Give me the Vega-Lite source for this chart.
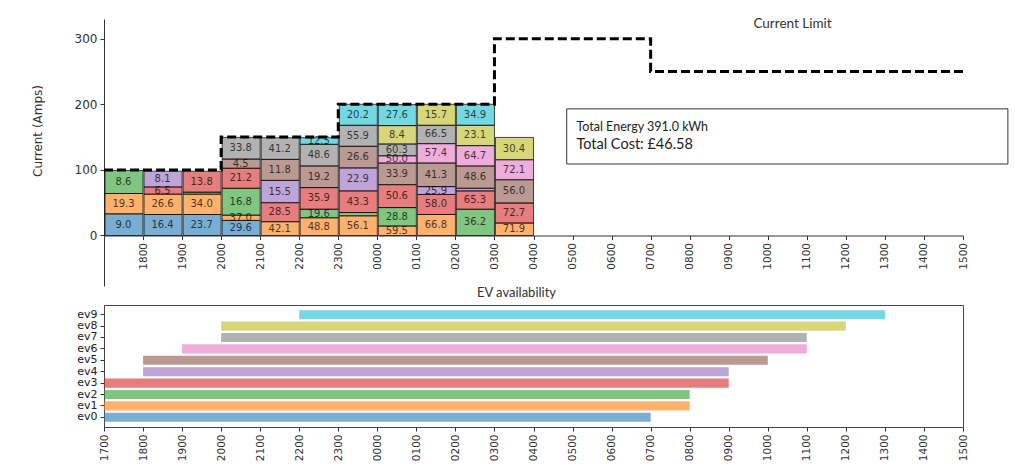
{
  "$schema": "https://vega.github.io/schema/vega-lite/v6.json",
  "padding": {"left": 31, "top": 16, "right": 0, "bottom": 0},
  "background": "white",
  "spacing": 0,
  "config": {
    "font": "DejaVu Sans",
    "axis": {"grid": false, "domainColor": "#333", "tickColor": "#333", "labelColor": "#333", "tickSize": 4, "labelPadding": 3}
  },
  "resolve": {"scale": {"x": "independent", "y": "independent"}},
  "datasets": {
    "current": [
      {"t": "2020-01-01T17:00", "ev": "ev0", "amps": 33, "label": "9.0"},
      {"t": "2020-01-01T17:00", "ev": "ev1", "amps": 31, "label": "19.3"},
      {"t": "2020-01-01T17:00", "ev": "ev2", "amps": 35, "label": "8.6"},
      {"t": "2020-01-01T18:00", "ev": "ev0", "amps": 32, "label": "16.4"},
      {"t": "2020-01-01T18:00", "ev": "ev1", "amps": 31, "label": "26.6"},
      {"t": "2020-01-01T18:00", "ev": "ev3", "amps": 11, "label": "6.5"},
      {"t": "2020-01-01T18:00", "ev": "ev4", "amps": 24, "label": "8.1"},
      {"t": "2020-01-01T19:00", "ev": "ev0", "amps": 32, "label": "23.7"},
      {"t": "2020-01-01T19:00", "ev": "ev1", "amps": 31, "label": "34.0"},
      {"t": "2020-01-01T19:00", "ev": "ev2", "amps": 3, "label": ""},
      {"t": "2020-01-01T19:00", "ev": "ev3", "amps": 32, "label": "13.8"},
      {"t": "2020-01-01T20:00", "ev": "ev0", "amps": 23, "label": "29.6"},
      {"t": "2020-01-01T20:00", "ev": "ev1", "amps": 8, "label": "37.0"},
      {"t": "2020-01-01T20:00", "ev": "ev2", "amps": 41, "label": "16.8"},
      {"t": "2020-01-01T20:00", "ev": "ev3", "amps": 30.5, "label": "21.2"},
      {"t": "2020-01-01T20:00", "ev": "ev5", "amps": 14, "label": "4.5"},
      {"t": "2020-01-01T20:00", "ev": "ev7", "amps": 33, "label": "33.8"},
      {"t": "2020-01-01T21:00", "ev": "ev1", "amps": 21, "label": "42.1"},
      {"t": "2020-01-01T21:00", "ev": "ev3", "amps": 29, "label": "28.5"},
      {"t": "2020-01-01T21:00", "ev": "ev4", "amps": 34, "label": "15.5"},
      {"t": "2020-01-01T21:00", "ev": "ev5", "amps": 32, "label": "11.8"},
      {"t": "2020-01-01T21:00", "ev": "ev7", "amps": 33, "label": "41.2"},
      {"t": "2020-01-01T22:00", "ev": "ev1", "amps": 27, "label": "48.8"},
      {"t": "2020-01-01T22:00", "ev": "ev2", "amps": 13, "label": "19.6"},
      {"t": "2020-01-01T22:00", "ev": "ev3", "amps": 33, "label": "35.9"},
      {"t": "2020-01-01T22:00", "ev": "ev5", "amps": 33, "label": "19.2"},
      {"t": "2020-01-01T22:00", "ev": "ev7", "amps": 33, "label": "48.6"},
      {"t": "2020-01-01T22:00", "ev": "ev9", "amps": 10, "label": "12.5"},
      {"t": "2020-01-01T23:00", "ev": "ev1", "amps": 30, "label": "56.1"},
      {"t": "2020-01-01T23:00", "ev": "ev2", "amps": 5, "label": ""},
      {"t": "2020-01-01T23:00", "ev": "ev3", "amps": 33, "label": "43.3"},
      {"t": "2020-01-01T23:00", "ev": "ev4", "amps": 35, "label": "22.9"},
      {"t": "2020-01-01T23:00", "ev": "ev5", "amps": 33, "label": "26.6"},
      {"t": "2020-01-01T23:00", "ev": "ev7", "amps": 32, "label": "55.9"},
      {"t": "2020-01-01T23:00", "ev": "ev9", "amps": 32, "label": "20.2"},
      {"t": "2020-01-02T00:00", "ev": "ev1", "amps": 14.5, "label": "59.5"},
      {"t": "2020-01-02T00:00", "ev": "ev2", "amps": 28, "label": "28.8"},
      {"t": "2020-01-02T00:00", "ev": "ev3", "amps": 35, "label": "50.6"},
      {"t": "2020-01-02T00:00", "ev": "ev5", "amps": 33, "label": "33.9"},
      {"t": "2020-01-02T00:00", "ev": "ev6", "amps": 11, "label": "50.0"},
      {"t": "2020-01-02T00:00", "ev": "ev7", "amps": 18, "label": "60.3"},
      {"t": "2020-01-02T00:00", "ev": "ev8", "amps": 28, "label": "8.4"},
      {"t": "2020-01-02T00:00", "ev": "ev9", "amps": 32, "label": "27.6"},
      {"t": "2020-01-02T01:00", "ev": "ev1", "amps": 32, "label": "66.8"},
      {"t": "2020-01-02T01:00", "ev": "ev3", "amps": 30.5, "label": "58.0"},
      {"t": "2020-01-02T01:00", "ev": "ev4", "amps": 12, "label": "25.9"},
      {"t": "2020-01-02T01:00", "ev": "ev5", "amps": 36, "label": "41.3"},
      {"t": "2020-01-02T01:00", "ev": "ev6", "amps": 29.5, "label": "57.4"},
      {"t": "2020-01-02T01:00", "ev": "ev7", "amps": 28, "label": "66.5"},
      {"t": "2020-01-02T01:00", "ev": "ev8", "amps": 32, "label": "15.7"},
      {"t": "2020-01-02T02:00", "ev": "ev2", "amps": 40, "label": "36.2"},
      {"t": "2020-01-02T02:00", "ev": "ev3", "amps": 28, "label": "65.3"},
      {"t": "2020-01-02T02:00", "ev": "ev4", "amps": 4, "label": ""},
      {"t": "2020-01-02T02:00", "ev": "ev5", "amps": 34, "label": "48.6"},
      {"t": "2020-01-02T02:00", "ev": "ev6", "amps": 31, "label": "64.7"},
      {"t": "2020-01-02T02:00", "ev": "ev8", "amps": 31, "label": "23.1"},
      {"t": "2020-01-02T02:00", "ev": "ev9", "amps": 32, "label": "34.9"},
      {"t": "2020-01-02T03:00", "ev": "ev1", "amps": 19, "label": "71.9"},
      {"t": "2020-01-02T03:00", "ev": "ev3", "amps": 30.5, "label": "72.7"},
      {"t": "2020-01-02T03:00", "ev": "ev5", "amps": 35.5, "label": "56.0"},
      {"t": "2020-01-02T03:00", "ev": "ev6", "amps": 30.5, "label": "72.1"},
      {"t": "2020-01-02T03:00", "ev": "ev8", "amps": 34, "label": "30.4"}
    ],
    "limit": [
      {"t": "2020-01-01T17:00", "limit": 100},
      {"t": "2020-01-01T20:00", "limit": 150},
      {"t": "2020-01-01T23:00", "limit": 200},
      {"t": "2020-01-02T03:00", "limit": 300},
      {"t": "2020-01-02T07:00", "limit": 250},
      {"t": "2020-01-02T15:00", "limit": 250}
    ],
    "avail": [
      {"ev": "ev0", "start": "2020-01-01T17:00", "end": "2020-01-02T07:00"},
      {"ev": "ev1", "start": "2020-01-01T17:00", "end": "2020-01-02T08:00"},
      {"ev": "ev2", "start": "2020-01-01T17:00", "end": "2020-01-02T08:00"},
      {"ev": "ev3", "start": "2020-01-01T17:00", "end": "2020-01-02T09:00"},
      {"ev": "ev4", "start": "2020-01-01T18:00", "end": "2020-01-02T09:00"},
      {"ev": "ev5", "start": "2020-01-01T18:00", "end": "2020-01-02T10:00"},
      {"ev": "ev6", "start": "2020-01-01T19:00", "end": "2020-01-02T11:00"},
      {"ev": "ev7", "start": "2020-01-01T20:00", "end": "2020-01-02T11:00"},
      {"ev": "ev8", "start": "2020-01-01T20:00", "end": "2020-01-02T12:00"},
      {"ev": "ev9", "start": "2020-01-01T22:00", "end": "2020-01-02T13:00"}
    ]
  },
  "vconcat": [
    {
      "width": 859,
      "height": 267,
      "view": {"stroke": null},
      "layer": [
        {
          "data": {"name": "current"},
          "transform": [
            {"stack": "amps", "groupby": ["t"], "sort": [{"field": "ev", "order": "ascending"}], "as": ["y0", "y1"]},
            {"calculate": "(datum.y0 + datum.y1) / 2", "as": "ymid"}
          ],
          "layer": [
            {
              "mark": {"type": "bar", "fillOpacity": 0.6, "stroke": "black", "strokeOpacity": 0.7, "strokeWidth": 1},
              "encoding": {
                "x": {
                  "field": "t", "type": "temporal", "timeUnit": "yearmonthdatehours", "title": null,
                  "scale": {"domain": [{"year": 2020, "month": 1, "date": 1, "hours": 17}, {"year": 2020, "month": 1, "date": 2, "hours": 15}], "nice": false},
                  "axis": {"offset": -50.5, "format": "%H%M", "labelExpr": "datum.index == 0 ? '' : datum.label", "labelAngle": -90, "labelFontSize": 10.5, "labelOverlap": false, "labelFlush": false}
                },
                "y": {
                  "field": "y0", "type": "quantitative",
                  "scale": {"domain": [-77, 330], "nice": false, "zero": false},
                  "axis": {"title": "Current (Amps)", "values": [0, 100, 200, 300], "labelFontSize": 12, "titleFontSize": 12, "titleFontWeight": "normal", "titleColor": "#333", "titleX": -67, "titleY": 111.5, "titleAngle": -90, "titleAlign": "center", "titleBaseline": "middle"}
                },
                "y2": {"field": "y1"},
                "color": {
                  "field": "ev", "type": "nominal", "legend": null,
                  "scale": {"domain": ["ev0", "ev1", "ev2", "ev3", "ev4", "ev5", "ev6", "ev7", "ev8", "ev9"], "range": ["#1f77b4", "#ff7f0e", "#2ca02c", "#d62728", "#9467bd", "#8c564b", "#e377c2", "#7f7f7f", "#bcbd22", "#17becf"]}
                }
              }
            },
            {
              "mark": {"type": "text", "fontSize": 10, "font": "DejaVu Sans", "fill": "black", "opacity": 0.7, "align": "center", "baseline": "middle"},
              "encoding": {
                "x": {"field": "t", "type": "temporal", "timeUnit": "yearmonthdatehours", "bandPosition": 0.5, "title": null},
                "y": {"field": "ymid", "type": "quantitative"},
                "text": {"field": "label"}
              }
            }
          ]
        },
        {
          "data": {"name": "limit"},
          "mark": {"type": "line", "interpolate": "step-after", "color": "black", "strokeWidth": 3, "strokeDash": [9, 4]},
          "encoding": {
            "x": {"field": "t", "type": "temporal", "title": null},
            "y": {"field": "limit", "type": "quantitative"}
          }
        },
        {
          "data": {"values": [{"t": "2020-01-02T10:38", "v": 323}]},
          "mark": {"type": "text", "text": "Current Limit", "font": "Lato", "fontSize": 13.5, "color": "#333", "align": "center", "baseline": "middle"},
          "encoding": {
            "x": {"field": "t", "type": "temporal"},
            "y": {"field": "v", "type": "quantitative"}
          }
        },
        {
          "data": {"values": [{"t": "2020-01-02T04:51", "t2": "2020-01-02T16:09", "v": 193, "v2": 109}]},
          "mark": {"type": "rect", "fill": "white", "stroke": "#333", "strokeWidth": 1},
          "encoding": {
            "x": {"field": "t", "type": "temporal"},
            "x2": {"field": "t2"},
            "y": {"field": "v", "type": "quantitative"},
            "y2": {"field": "v2"}
          }
        },
        {
          "data": {"values": [{"t": "2020-01-02T05:06", "v": 165.6}]},
          "mark": {"type": "text", "text": "Total Energy 391.0 kWh", "font": "Lato", "fontSize": 12.5, "color": "#222", "align": "left", "baseline": "middle"},
          "encoding": {
            "x": {"field": "t", "type": "temporal"},
            "y": {"field": "v", "type": "quantitative"}
          }
        },
        {
          "data": {"values": [{"t": "2020-01-02T05:06", "v": 138.2}]},
          "mark": {"type": "text", "text": "Total Cost: £46.58", "font": "Lato", "fontSize": 14.5, "color": "#222", "align": "left", "baseline": "middle"},
          "encoding": {
            "x": {"field": "t", "type": "temporal"},
            "y": {"field": "v", "type": "quantitative"}
          }
        }
      ]
    },
    {
      "width": 859,
      "height": 122,
      "title": {"text": "EV availability", "font": "Lato", "fontSize": 13, "fontWeight": "normal", "color": "#333", "offset": 5, "anchor": "middle", "dx": -17},
      "view": {"stroke": "#444"},
      "data": {"name": "avail"},
      "mark": {"type": "bar", "fillOpacity": 0.6},
      "encoding": {
        "y": {
          "field": "ev", "type": "nominal", "sort": "descending",
          "scale": {"paddingInner": 0.2, "paddingOuter": 0.45},
          "axis": {"title": null, "labelFontSize": 11, "labelColor": "#222", "domainColor": "#444"}
        },
        "x": {
          "field": "start", "type": "temporal",
          "scale": {"domain": [{"year": 2020, "month": 1, "date": 1, "hours": 17}, {"year": 2020, "month": 1, "date": 2, "hours": 15}], "nice": false},
          "axis": {"title": null, "format": "%H%M", "labelAngle": -90, "labelFontSize": 10.5, "labelOverlap": false, "labelFlush": false, "domainColor": "#444"}
        },
        "x2": {"field": "end"},
        "color": {
          "field": "ev", "type": "nominal", "legend": null,
          "scale": {"domain": ["ev0", "ev1", "ev2", "ev3", "ev4", "ev5", "ev6", "ev7", "ev8", "ev9"], "range": ["#1f77b4", "#ff7f0e", "#2ca02c", "#d62728", "#9467bd", "#8c564b", "#e377c2", "#7f7f7f", "#bcbd22", "#17becf"]}
        }
      }
    }
  ]
}
